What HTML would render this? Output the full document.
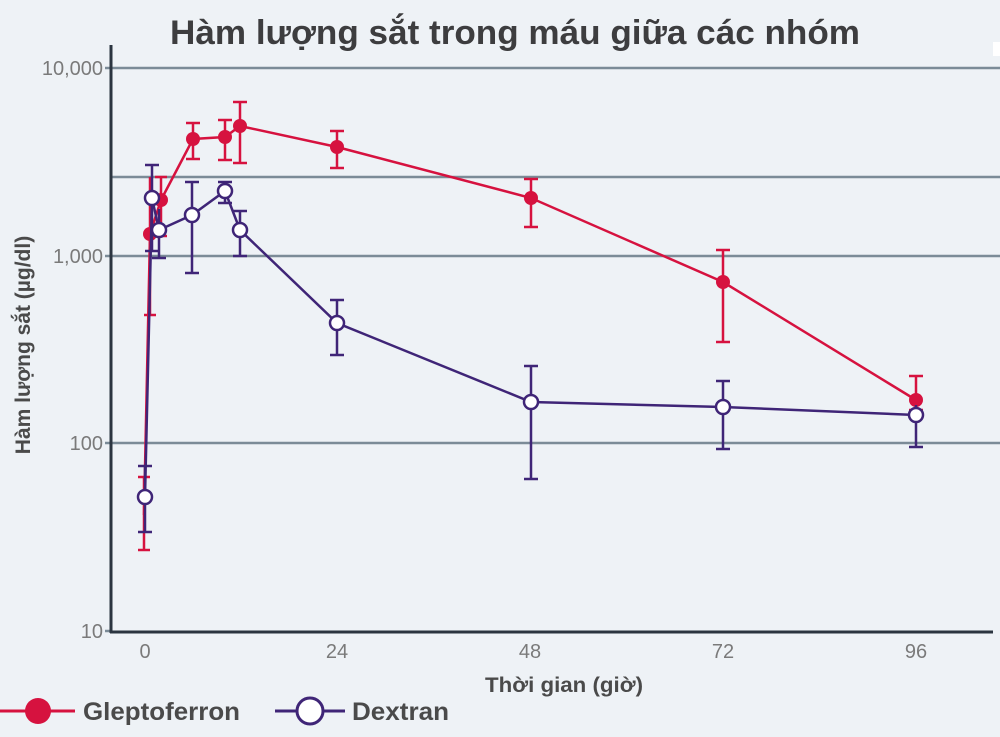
<!DOCTYPE html>
<html><head><meta charset="utf-8"><style>
html,body{margin:0;padding:0;background:#eef2f6;}
svg{display:block;}
</style></head><body>
<svg width="1000" height="737" viewBox="0 0 1000 737" xmlns="http://www.w3.org/2000/svg" font-family="Liberation Sans, DejaVu Sans, sans-serif">
<rect width="1000" height="737" fill="#eef2f6"/>
<rect x="993" y="42" width="7" height="14" fill="#fff"/>
<text x="515" y="44" text-anchor="middle" font-size="34" font-weight="bold" fill="#3d3d3f" textLength="690" lengthAdjust="spacingAndGlyphs">Hàm lượng sắt trong máu giữa các nhóm</text>
<g stroke="#7b8b97" stroke-width="2.5">
<line x1="105" y1="68" x2="1000" y2="68"/>
<line x1="111" y1="177" x2="1000" y2="177"/>
<line x1="105" y1="256" x2="1000" y2="256"/>
<line x1="105" y1="443" x2="1000" y2="443"/>
<line x1="105" y1="631" x2="111" y2="631"/>
</g>
<g stroke="#2b3540" stroke-width="3">
<line x1="111" y1="45" x2="111" y2="633"/>
<line x1="110" y1="632" x2="993" y2="632"/>
</g>
<g font-size="20" fill="#7a7a7a" text-anchor="end">
<text x="103" y="75">10,000</text>
<text x="103" y="263">1,000</text>
<text x="103" y="450">100</text>
<text x="103" y="638">10</text>
</g>
<g font-size="20" fill="#7a7a7a" text-anchor="middle">
<text x="145" y="658">0</text>
<text x="337" y="658">24</text>
<text x="530" y="658">48</text>
<text x="723" y="658">72</text>
<text x="916" y="658">96</text>
</g>
<text x="564" y="692" text-anchor="middle" font-size="21" font-weight="bold" fill="#4a4a4a" textLength="158" lengthAdjust="spacingAndGlyphs">Thời gian (giờ)</text>
<text transform="translate(30,345) rotate(-90)" text-anchor="middle" font-size="21" font-weight="bold" fill="#4a4a4a">Hàm lượng sắt (µg/dl)</text>
<g stroke="#d6123f" stroke-width="2.5" fill="none">
<path d="M144 477V550M138 477h12M138 550h12"/>
<path d="M150 177V315M144 315h12"/>
<path d="M161 177V236M155 177h12M155 236h12"/>
<path d="M193 123V159M186 123h14M186 159h14"/>
<path d="M225 120V160M218 120h14M218 160h14"/>
<path d="M240 102V163M233 102h14M233 163h14"/>
<path d="M337 131V168M330 131h14M330 168h14"/>
<path d="M531 179V227M524 179h14M524 227h14"/>
<path d="M723 250V342M716 250h14M716 342h14"/>
<path d="M916 376V410M909 376h14M909 410h14"/>
<polyline points="144,515 150,234 161,200 193,139 225,137 240,126 337,147 531,198 723,282 916,400"/>
</g>
<g fill="#d6123f">
<circle cx="150" cy="234" r="7"/><circle cx="161" cy="200" r="7"/><circle cx="193" cy="139" r="7"/><circle cx="225" cy="137" r="7"/><circle cx="240" cy="126" r="7"/><circle cx="337" cy="147" r="7"/><circle cx="531" cy="198" r="7"/><circle cx="723" cy="282" r="7"/><circle cx="916" cy="400" r="7"/>
</g>
<g stroke="#3f2577" stroke-width="2.5" fill="none">
<path d="M145 466V532M138 466h14M138 532h14"/>
<path d="M152 165V251M145 165h14M145 251h14"/>
<path d="M159 209V258M152 258h14"/>
<path d="M192 182V273M185 182h14M185 273h14"/>
<path d="M225 182V203M218 182h14M218 203h14"/>
<path d="M240 211V256M233 211h14M233 256h14"/>
<path d="M337 300V355M330 300h14M330 355h14"/>
<path d="M531 366V479M524 366h14M524 479h14"/>
<path d="M723 381V449M716 381h14M716 449h14"/>
<path d="M916 405V447M909 447h14"/>
<polyline points="145,497 152,198 159,230 192,215 225,191 240,230 337,323 531,402 723,407 916,415"/>
</g>
<g fill="#fff" stroke="#3f2577" stroke-width="2.5">
<circle cx="145" cy="497" r="7"/><circle cx="152" cy="198" r="7"/><circle cx="159" cy="230" r="7"/><circle cx="192" cy="215" r="7"/><circle cx="225" cy="191" r="7"/><circle cx="240" cy="230" r="7"/><circle cx="337" cy="323" r="7"/><circle cx="531" cy="402" r="7"/><circle cx="723" cy="407" r="7"/><circle cx="916" cy="415" r="7"/>
</g>
<line x1="0" y1="711" x2="75" y2="711" stroke="#d6123f" stroke-width="3"/>
<circle cx="38" cy="711" r="13" fill="#d6123f"/>
<text x="83" y="720" font-size="25" font-weight="bold" fill="#4a4a4a" textLength="157" lengthAdjust="spacingAndGlyphs">Gleptoferron</text>
<line x1="275" y1="711" x2="345" y2="711" stroke="#3f2577" stroke-width="3"/>
<circle cx="310" cy="711" r="13" fill="#fff" stroke="#3f2577" stroke-width="3"/>
<text x="352" y="720" font-size="25" font-weight="bold" fill="#4a4a4a" textLength="97" lengthAdjust="spacingAndGlyphs">Dextran</text>
</svg>
</body></html>
